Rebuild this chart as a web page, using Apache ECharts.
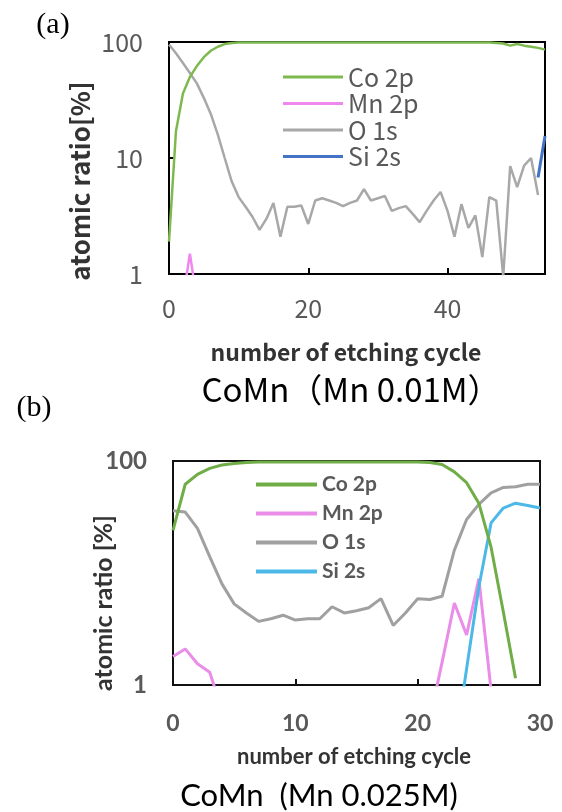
<!DOCTYPE html>
<html><head><meta charset="utf-8">
<script src="https://cdn.jsdelivr.net/npm/echarts@6/dist/echarts.min.js"></script>
<style>html,body{margin:0;padding:0;background:#fff}#c{width:562px;height:812px}</style>
</head><body><div id="c"></div>
<script>
// Series names (legend order)
const seriesNames = ['Co 2p', 'Mn 2p', 'O 1s', 'Si 2s'];

// (a) CoMn (Mn 0.01M): value at etching cycle = array index
const coA = [1.9, 17, 36, 50, 62, 74, 84, 91, 96, 98,
  99, 99, 99, 99, 99, 99, 99, 99, 99, 99,
  99, 99, 99, 99, 99, 99, 99, 99, 99, 99,
  99, 99, 99, 99, 99, 99, 99, 99, 99, 99,
  99, 99, 99, 99, 99, 99, 99, 98, 97, 93,
  96, 93, 91, 89, 86];
const mnA = [null, null, 0.6, 1.5, 0.6];
const oA = [95, 80, 66, 54, 44, 33, 24, 16, 10, 6.3,
  4.6, 3.8, 3.1, 2.4, 3.0, 4.1, 2.1, 3.8, 3.8, 3.9,
  2.7, 4.3, 4.5, 4.3, 4.1, 3.85, 4.1, 4.3, 5.4, 4.3,
  4.5, 4.7, 3.5, 3.7, 3.85, 3.3, 2.8, 3.5, 4.3, 5.1,
  3.5, 2.1, 4.0, 2.5, 3.2, 1.4, 4.6, 4.3, 0.95, 8.5,
  5.6, 8.6, 10, 4.8];
const siA = [null, null, null, null, null, null, null, null, null, null,
  null, null, null, null, null, null, null, null, null, null,
  null, null, null, null, null, null, null, null, null, null,
  null, null, null, null, null, null, null, null, null, null,
  null, null, null, null, null, null, null, null, null, null,
  null, null, null, 6.8, 15.5];

// (b) CoMn (Mn 0.025M)
const coB = [24, 62, 76, 86, 92, 95, 97, 98, 98, 98,
  98, 98, 98, 98, 98, 98, 98, 98, 98, 98,
  98, 97, 93, 80, 64, 42, 17, 4.5, 1.15];
const mnB = [1.8, 2.1, 1.55, 1.3, 0.6, null, null, null, null, null,
  null, null, null, null, null, null, null, null, null, null,
  null, 0.5, 1.6, 5.4, 2.8, 8.9, 0.9];
const oB = [36, 35, 25, 14, 8, 5.3, 4.4, 3.7, 3.9, 4.2,
  3.8, 3.9, 3.9, 5.0, 4.4, 4.6, 4.9, 5.9, 3.4, 4.4,
  5.9, 5.8, 6.2, 16, 30, 41, 52, 58, 59, 62, 62];
const siB = [null, null, null, null, null, null, null, null, null, null,
  null, null, null, null, null, null, null, null, null, null,
  null, null, null, 0.25, 1.4, 7.5, 28, 38, 42, 40, 38];

// axis settings
const xMaxA = 54, xStepA = 20;
const xMaxB = 30, xStepB = 10;
const yMin = 1, yMax = 100;

const colorsA = ['#7DB94F', '#EE88EE', '#A8A8A8', '#4472C4'];
const colorsB = ['#70AD47', '#E98DE9', '#A0A0A0', '#4CB8E8'];
const FA = '"Noto Sans CJK JP", "Noto Sans", sans-serif';
const FB = 'Lato, "Noto Sans", sans-serif';

const toXY = arr => arr.map((v, i) => [i, v == null ? '-' : v]);

function mk(name, arr, color, width, gi) {
  return {
    type: 'line', name: name, xAxisIndex: gi, yAxisIndex: gi,
    data: toXY(arr), showSymbol: false, symbol: 'none', clip: true,
    connectNulls: false, smooth: false,
    lineStyle: { color: color, width: width },
    itemStyle: { color: color }, z: 3
  };
}

const chart = echarts.init(document.getElementById('c'), null, { width: 562, height: 812 });

const axLine = c => ({ show: true, onZero: false, lineStyle: { color: c, width: 2 } });

chart.setOption({
  animation: false,
  backgroundColor: '#fff',
  grid: [
    { left: 169, top: 42, width: 376, height: 232, show: true, borderColor: '#000', borderWidth: 2 },
    { left: 173, top: 461, width: 367, height: 224, show: true, borderColor: '#111', borderWidth: 2 }
  ],
  xAxis: [
    { gridIndex: 0, type: 'value', min: 0, max: xMaxA, interval: xStepA,
      axisLine: axLine('#000'),
      axisTick: { show: true, inside: true, length: 6, lineStyle: { color: '#000', width: 2 } },
      axisLabel: { color: '#595959', fontSize: 25, fontFamily: FA, margin: 22, showMaxLabel: false },
      splitLine: { show: false } },
    { gridIndex: 1, type: 'value', min: 0, max: xMaxB, interval: xStepB,
      axisLine: axLine('#111'),
      axisTick: { show: true, inside: true, length: 6, lineStyle: { color: '#111', width: 2 } },
      axisLabel: { color: '#595959', fontSize: 23, fontWeight: 'bold', fontFamily: FB, margin: 27 },
      splitLine: { show: false } }
  ],
  yAxis: [
    { gridIndex: 0, type: 'log', logBase: 10, min: yMin, max: yMax,
      axisLine: axLine('#000'),
      axisTick: { show: true, inside: true, length: 6, lineStyle: { color: '#000', width: 2 } },
      axisLabel: { color: '#595959', fontSize: 25, fontFamily: FA, margin: 26 },
      splitLine: { show: false } },
    { gridIndex: 1, type: 'log', logBase: 10, min: yMin, max: yMax,
      axisLine: axLine('#111'),
      axisTick: { show: false },
      axisLabel: { color: '#595959', fontSize: 24, fontWeight: 'bold', fontFamily: FB, margin: 26,
        formatter: v => (Math.abs(v - 10) < 1e-6 ? '' : String(Math.round(v))) },
      splitLine: { show: false } }
  ],
  legend: [
    { data: seriesNames.slice(), left: 283, top: 64, orient: 'vertical', padding: 0,
      itemWidth: 60, itemHeight: 3, itemGap: 0.5, icon: 'rect', selectedMode: false,
      textStyle: { fontSize: 25, color: '#595959', fontFamily: FA, lineHeight: 26 } },
    { data: seriesNames.map(n => n + '#b'), left: 256, top: 470, orient: 'vertical', padding: 0,
      itemWidth: 61, itemHeight: 4, itemGap: 0, icon: 'rect', selectedMode: false,
      formatter: n => n.replace('#b', ''),
      textStyle: { fontSize: 21, fontWeight: 'bold', color: '#595959', fontFamily: FB, lineHeight: 29 } }
  ],
  series: [
    mk(seriesNames[2], oA, colorsA[2], 2.5, 0),
    mk(seriesNames[1], mnA, colorsA[1], 2.5, 0),
    mk(seriesNames[3], siA, colorsA[3], 3, 0),
    mk(seriesNames[0], coA, colorsA[0], 2.5, 0),
    mk(seriesNames[2] + '#b', oB, colorsB[2], 3, 1),
    mk(seriesNames[1] + '#b', mnB, colorsB[1], 3, 1),
    mk(seriesNames[3] + '#b', siB, colorsB[3], 3, 1),
    mk(seriesNames[0] + '#b', coB, colorsB[0], 3, 1)
  ],
  graphic: [
    { type: 'text', x: 53, y: 25, style: { text: '(a)', font: '30px "Liberation Serif", serif', fill: '#000', align: 'center', verticalAlign: 'middle' } },
    { type: 'text', x: 80, y: 181, rotation: Math.PI / 2, style: { text: 'atomic ratio[%]', font: 'bold 26px ' + FA, fill: '#333', align: 'center', verticalAlign: 'middle' } },
    { type: 'text', x: 346, y: 352, style: { text: 'number of etching cycle', font: 'bold 23px ' + FA, fill: '#333', align: 'center', verticalAlign: 'middle' } },
    { type: 'text', x: 351, y: 389, style: { text: 'CoMn（Mn 0.01M）', font: '33px ' + FA, fill: '#000', align: 'center', verticalAlign: 'middle' } },
    { type: 'text', x: 34, y: 408, style: { text: '(b)', font: '30px "Liberation Serif", serif', fill: '#000', align: 'center', verticalAlign: 'middle' } },
    { type: 'text', x: 104, y: 603, rotation: Math.PI / 2, style: { text: 'atomic ratio [%]', font: 'bold 25px ' + FB, fill: '#333', align: 'center', verticalAlign: 'middle' } },
    { type: 'text', x: 354, y: 757, style: { text: 'number of etching cycle', font: 'bold 22px ' + FB, fill: '#333', align: 'center', verticalAlign: 'middle' } },
    { type: 'text', x: 319, y: 796, style: { text: 'CoMn  (Mn 0.025M)', font: '31px ' + FB, fill: '#000', align: 'center', verticalAlign: 'middle' } }
  ]
});
</script>
</body></html>
